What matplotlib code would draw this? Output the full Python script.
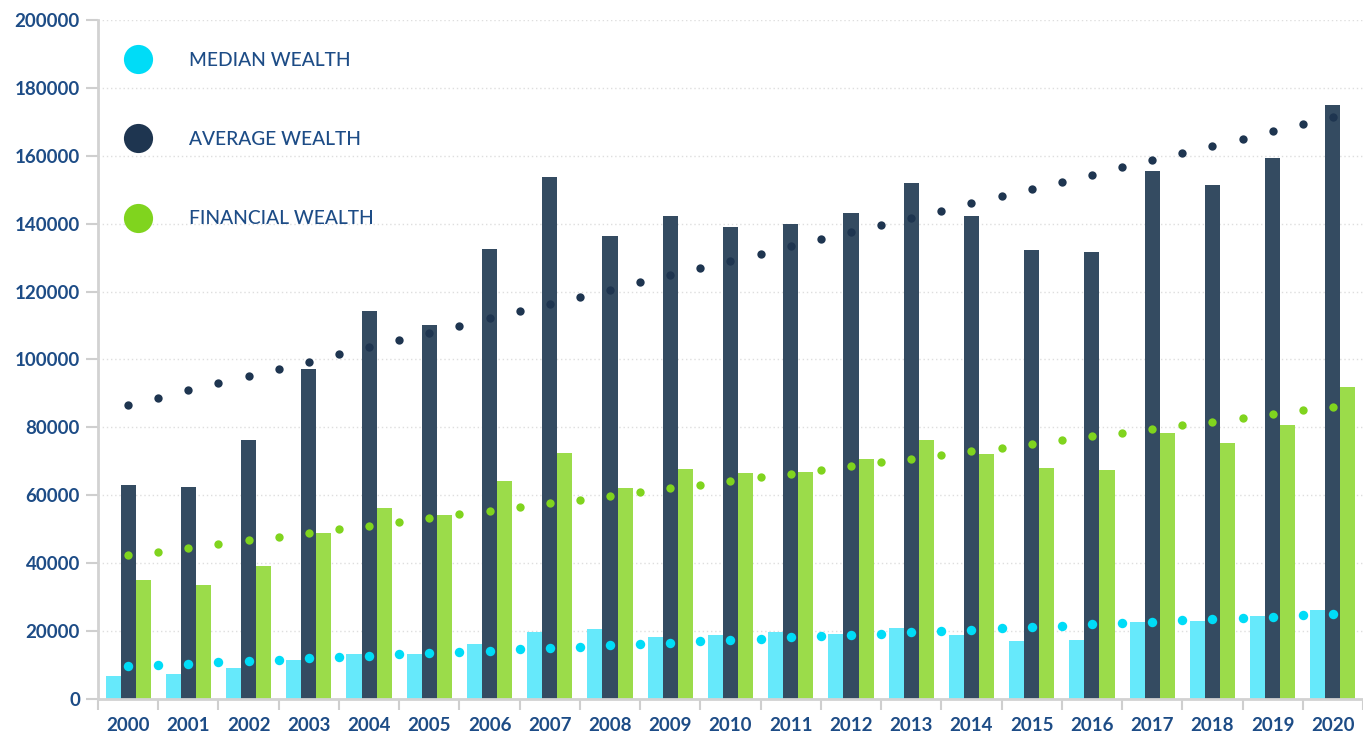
import numpy as np
import matplotlib
matplotlib.use("Agg")
import matplotlib.pyplot as plt
from matplotlib.lines import Line2D

# data
years = [str(y) for y in range(2000, 2021)]
median_wealth = [6800, 7400, 9100, 11500, 13300, 13300, 16200, 19700, 20600, 18300, 18900,
                 19700, 19200, 20900, 18900, 17100, 17400, 22700, 23000, 24400, 26200]
average_wealth = [63000, 62300, 76300, 97200, 114300, 110200, 132500, 153800, 136400, 142300, 139000,
                  139900, 143200, 152000, 142300, 132300, 131700, 155500, 151400, 159400, 175000]
financial_wealth = [35000, 33600, 39200, 48900, 56300, 54200, 64200, 72500, 62100, 67700, 66600,
                    66900, 70700, 76300, 72200, 68000, 67500, 78400, 75400, 80700, 91900]
labels = ["MEDIAN WEALTH", "AVERAGE WEALTH", "FINANCIAL WEALTH"]

bar_colors = ["#66e9fb", "#344b61", "#9bdc4a"]
dot_colors = ["#00dcf7", "#1e3550", "#80d41e"]
text_color = "#1d4c86"

plt.rcParams['font.family'] = ['Lato', 'DejaVu Sans']

fig = plt.figure(figsize=(13.63, 7.33), dpi=100)
ax = fig.add_axes([98 / 1363, 1 - 699 / 733, 1 - 98 / 1363, (699 - 20) / 733])

x = np.arange(len(years))
w = 0.25
series = [median_wealth, average_wealth, financial_wealth]
for i, vals in enumerate(series):
    ax.bar(x + (i - 1) * w, vals, width=w, color=bar_colors[i], zorder=2)

# linear trend lines, shown as dots every half year
xs = np.arange(0, len(years) - 0.99, 0.5)
for i, vals in enumerate(series):
    k, b = np.polyfit(x, vals, 1)
    ms = 6.8 if i == 0 else 6.0
    ax.plot(xs, k * xs + b, linestyle='none', marker='o', ms=ms,
            color=dot_colors[i], mec='none', zorder=3)

ax.set_xlim(-0.5, -0.5 + (1363 - 98) / 60.6)
ax.set_ylim(0, 200000)
ax.set_yticks(range(0, 200001, 20000))
ax.set_xticks(x)
ax.set_xticklabels(years)
ax.set_xticks(np.arange(-0.5, len(years), 1), minor=True)

ax.tick_params(axis='y', length=9, width=1.5, color='#cfcfcf', pad=4,
               labelsize=13.5, labelcolor=text_color)
ax.tick_params(axis='x', which='major', length=0, pad=13, labelsize=13.5, labelcolor=text_color)
ax.tick_params(axis='x', which='minor', length=8, width=1.5, color='#cfcfcf')
for lab in ax.get_xticklabels() + ax.get_yticklabels():
    lab.set_fontweight('bold')

for s in ['top', 'right']:
    ax.spines[s].set_visible(False)
for s in ['left', 'bottom']:
    ax.spines[s].set_color('#d2d2d2')
    ax.spines[s].set_linewidth(2)

ax.yaxis.grid(True, linestyle=(0, (1, 2)), color='#dedede', linewidth=1)
ax.set_axisbelow(True)

handles = [Line2D([], [], linestyle='none', marker='o', ms=21, color=c, mec='none')
           for c in dot_colors]
leg = ax.legend(handles, labels, loc='upper left', bbox_to_anchor=(0.0166, 0.953),
                frameon=False, fontsize=13.8, labelspacing=3.25, handlelength=2.0,
                handletextpad=1.65, borderpad=0, borderaxespad=0)
for t in leg.get_texts():
    t.set_color(text_color)
    t.set_fontweight('medium')

fig.savefig("out.png", dpi=100)
